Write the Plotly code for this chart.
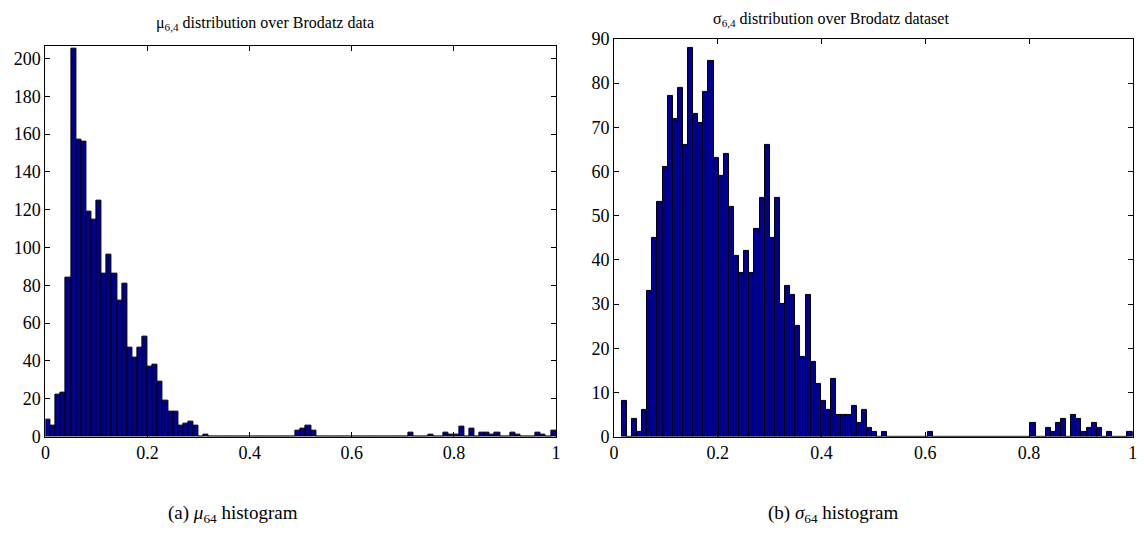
import numpy as np
import plotly.graph_objects as go

# Histogram counts, 100 bins each
mu_counts = [
    9, 6, 22, 23, 84, 205, 157, 156, 119, 115,
    125, 86, 96, 86, 72, 81, 47, 42, 47, 53,
    37, 38, 29, 19, 13, 13, 6, 7, 8, 6,
    0, 1, 0, 0, 0, 0, 0, 0, 0, 0,
    0, 0, 0, 0, 0, 0, 0, 0, 0, 3,
    4, 6, 3, 0, 0, 0, 0, 0, 0, 0,
    0, 0, 0, 0, 0, 0, 0, 0, 0, 0,
    0, 2, 0, 0, 0, 1, 0, 0, 2, 1,
    1, 5, 0, 4, 0, 2, 2, 1, 2, 0,
    0, 2, 1, 0, 0, 0, 2, 1, 0, 3,
]
sigma_counts = [
    8, 0, 4, 1, 6, 33, 45, 53, 61, 77,
    72, 79, 66, 88, 73, 71, 78, 85, 63, 59,
    64, 52, 41, 37, 42, 37, 47, 54, 66, 45,
    54, 30, 34, 32, 25, 18, 32, 17, 12, 8,
    6, 13, 5, 5, 5, 7, 3, 6, 2, 1,
    0, 1, 0, 0, 0, 0, 0, 0, 0, 0,
    1, 0, 0, 0, 0, 0, 0, 0, 0, 0,
    0, 0, 0, 0, 0, 0, 0, 0, 0, 0,
    3, 0, 0, 2, 1, 3, 4, 0, 5, 4,
    1, 2, 3, 2, 0, 1, 0, 0, 0, 1,
]

# Bin layout of each histogram (data min and bin width)
mu_bin_start, mu_bin_width = 0.0, 0.01
sigma_bin_start, sigma_bin_width = 0.0147, 0.00985

x_tickvals = [0, 0.2, 0.4, 0.6, 0.8, 1]
x_ticktext = ["0", "0.2", "0.4", "0.6", "0.8", "1"]
mu_yticks = list(range(0, 201, 20))
sigma_yticks = list(range(0, 91, 10))

W, H = 1144, 549
BAR_COLOR = "#00008F"
SERIF = "Liberation Serif"


def centers(start, width, n):
    return start + width * (np.arange(n) + 0.5)


fig = go.Figure()
fig.add_trace(go.Bar(
    x=centers(mu_bin_start, mu_bin_width, len(mu_counts)), y=mu_counts,
    width=mu_bin_width, xaxis="x", yaxis="y",
    marker=dict(color=BAR_COLOR, line=dict(color="black", width=1)),
    showlegend=False,
))
fig.add_trace(go.Bar(
    x=centers(sigma_bin_start, sigma_bin_width, len(sigma_counts)), y=sigma_counts,
    width=sigma_bin_width, xaxis="x2", yaxis="y2",
    marker=dict(color=BAR_COLOR, line=dict(color="black", width=1)),
    showlegend=False,
))

axis_common = dict(
    showline=True, linecolor="black", linewidth=1, mirror="ticks",
    ticks="inside", ticklen=5, tickcolor="black", tickwidth=1,
    showgrid=False, zeroline=False,
    tickfont=dict(family=SERIF, size=18, color="black"),
)


def px_x(p):
    return p / W


def px_y(p):
    return 1 - p / H


fig.update_layout(
    width=W, height=H,
    margin=dict(l=0, r=0, t=0, b=0),
    paper_bgcolor="white", plot_bgcolor="white",
    bargap=0,
    xaxis=dict(domain=[px_x(41.7), px_x(556)], range=[0, 1], anchor="y",
               tickvals=x_tickvals, ticktext=x_ticktext, **axis_common),
    yaxis=dict(domain=[px_y(442.7), px_y(37)], range=[0, 206.8], anchor="x",
               tickvals=mu_yticks, **axis_common),
    xaxis2=dict(domain=[px_x(614.3), px_x(1136.7)], range=[0, 1], anchor="y2",
                tickvals=x_tickvals, ticktext=x_ticktext, **axis_common),
    yaxis2=dict(domain=[px_y(442.7), px_y(30)], range=[0, 90], anchor="x2",
                tickvals=sigma_yticks, **axis_common),
)

title_font = dict(family=SERIF, size=16, color="black")
fig.add_annotation(
    text="μ<sub>6,4</sub> distribution over Brodatz data",
    xref="paper", yref="paper", x=px_x(151), y=px_y(14),
    xanchor="left", yanchor="middle", showarrow=False, font=title_font,
)
fig.add_annotation(
    text="σ<sub>6,4</sub> distribution over Brodatz dataset",
    xref="paper", yref="paper", x=px_x(712), y=px_y(10),
    xanchor="left", yanchor="middle", showarrow=False, font=title_font,
)

caption_font = dict(family=SERIF, size=19, color="black")
fig.add_annotation(
    text="(a) <i>μ</i><sub>64</sub> histogram",
    xref="paper", yref="paper", x=px_x(231), y=px_y(523),
    xanchor="center", yanchor="middle", showarrow=False, font=caption_font,
)
fig.add_annotation(
    text="(b) <i>σ</i><sub>64</sub> histogram",
    xref="paper", yref="paper", x=px_x(835), y=px_y(523),
    xanchor="center", yanchor="middle", showarrow=False, font=caption_font,
)

fig.write_html("out.html")
